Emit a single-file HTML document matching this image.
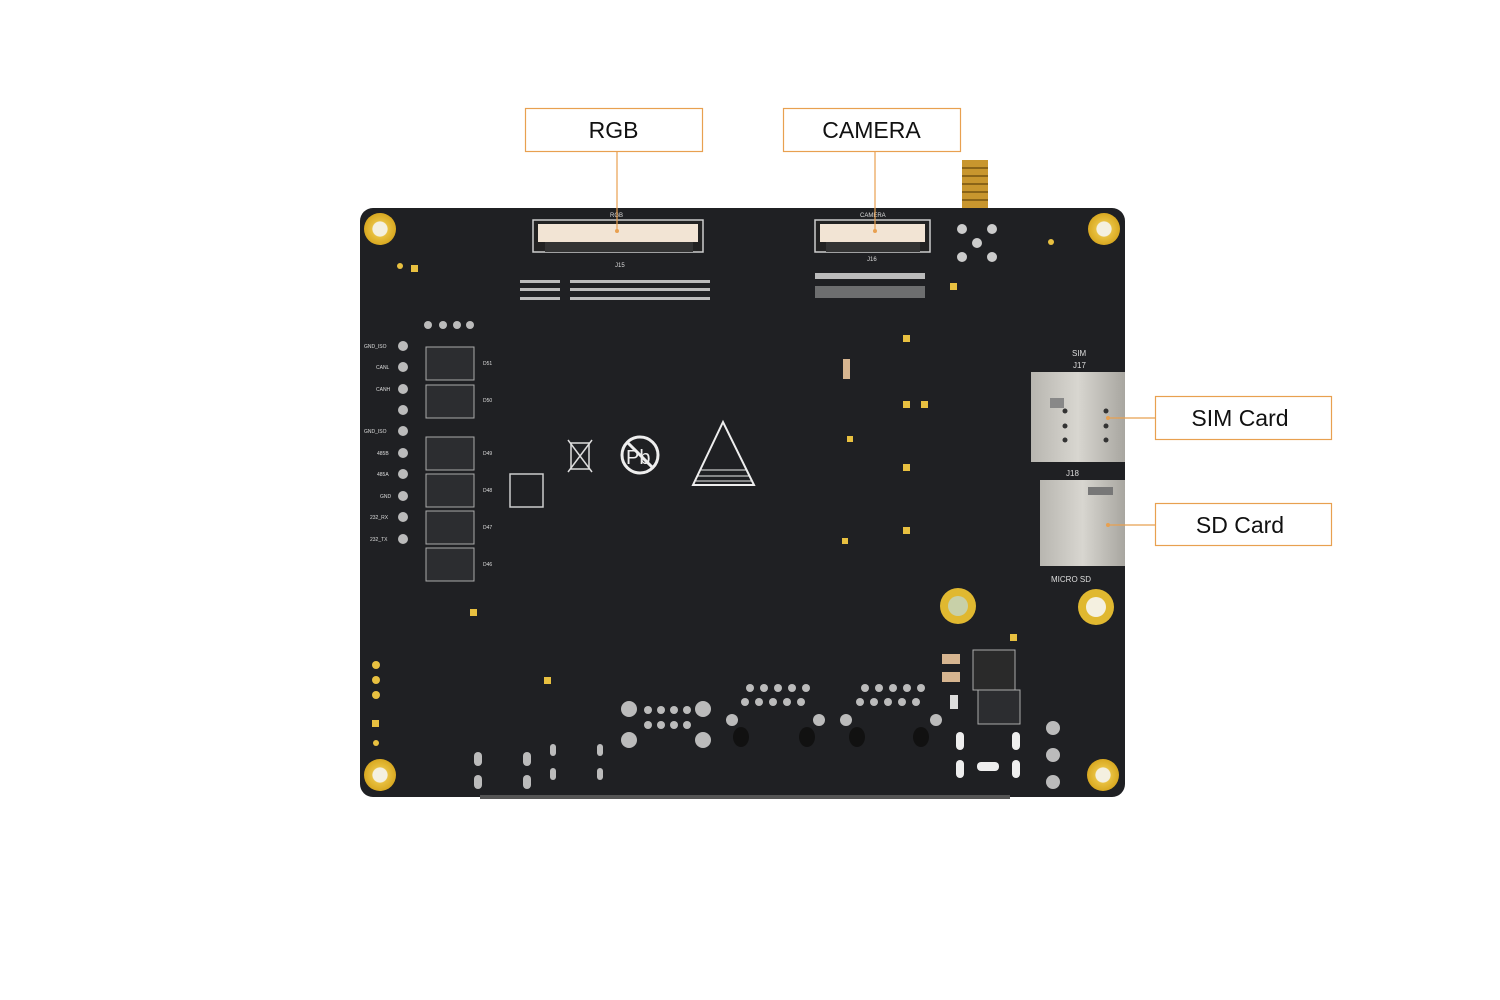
<!DOCTYPE html>
<html><head><meta charset="utf-8"><style>
html,body{margin:0;padding:0;background:#fff;}
svg{display:block;}
.lb{font-family:"Liberation Sans",sans-serif;font-size:23px;fill:#111;}
.s{font-family:"Liberation Sans",sans-serif;font-size:6px;fill:#ddd;}
</style></head><body>
<svg width="1500" height="1000" viewBox="0 0 1500 1000" xmlns="http://www.w3.org/2000/svg">
<defs>
<radialGradient id="gold"><stop offset="0.45" stop-color="#f4f0e0"/><stop offset="0.5" stop-color="#e8c040"/><stop offset="1" stop-color="#d8a820"/></radialGradient>
<linearGradient id="metal" x1="0" x2="1"><stop offset="0" stop-color="#b8b6b0"/><stop offset="0.5" stop-color="#d8d6d0"/><stop offset="1" stop-color="#a8a6a0"/></linearGradient>
</defs>
<!-- antenna -->
<rect x="962" y="160" width="26" height="48" fill="#c8962e"/>
<g stroke="#8a6418" stroke-width="2"><line x1="962" y1="168" x2="988" y2="168"/><line x1="962" y1="176" x2="988" y2="176"/><line x1="962" y1="184" x2="988" y2="184"/><line x1="962" y1="192" x2="988" y2="192"/><line x1="962" y1="200" x2="988" y2="200"/></g>
<!-- board -->
<rect x="360" y="208" width="765" height="589" rx="13" fill="#1f2023"/>
<rect x="480" y="795" width="530" height="4" fill="#555"/>
<!-- mount holes -->
<g>
<circle cx="380" cy="229" r="16" fill="url(#gold)"/>
<circle cx="1104" cy="229" r="16" fill="url(#gold)"/>
<circle cx="380" cy="775" r="16" fill="url(#gold)"/>
<circle cx="1103" cy="775" r="16" fill="url(#gold)"/>
<circle cx="958" cy="606" r="18" fill="#e0b830"/><circle cx="958" cy="606" r="10" fill="#c8d0a8"/>
<circle cx="1096" cy="607" r="18" fill="#e0b830"/><circle cx="1096" cy="607" r="10" fill="#f4f0e0"/>
</g>
<!-- connectors -->
<rect x="533" y="220" width="170" height="32" fill="#222" stroke="#ccc" stroke-width="1.5"/>
<rect x="538" y="224" width="160" height="18" fill="#f2e4d4"/>
<rect x="545" y="242" width="148" height="10" fill="#333"/>
<rect x="815" y="220" width="115" height="32" fill="#222" stroke="#ccc" stroke-width="1.5"/>
<rect x="820" y="224" width="105" height="18" fill="#f2e4d4"/>
<rect x="826" y="242" width="94" height="10" fill="#333"/>
<text class="s" x="610" y="217">RGB</text><text class="s" x="860" y="217">CAMERA</text>
<text class="s" x="615" y="267">J15</text><text class="s" x="867" y="261">J16</text>
<!-- pad rows -->
<g fill="#bbb">
<rect x="520" y="280" width="40" height="3"/><rect x="520" y="288" width="40" height="3"/><rect x="520" y="297" width="40" height="3"/>
<rect x="570" y="280" width="140" height="3"/><rect x="570" y="288" width="140" height="3"/><rect x="570" y="297" width="140" height="3"/>
<rect x="815" y="273" width="110" height="6"/><rect x="815" y="286" width="110" height="12" opacity="0.5"/>
</g>
<!-- SMA pins -->
<g fill="#ccc"><circle cx="962" cy="229" r="5"/><circle cx="992" cy="229" r="5"/><circle cx="977" cy="243" r="5"/><circle cx="962" cy="257" r="5"/><circle cx="992" cy="257" r="5"/></g>
<!-- left pins -->
<g fill="#bbb">
<circle cx="403" cy="346" r="5"/><circle cx="403" cy="367" r="5"/><circle cx="403" cy="389" r="5"/><circle cx="403" cy="410" r="5"/><circle cx="403" cy="431" r="5"/><circle cx="403" cy="453" r="5"/><circle cx="403" cy="474" r="5"/><circle cx="403" cy="496" r="5"/><circle cx="403" cy="517" r="5"/><circle cx="403" cy="539" r="5"/>
<circle cx="428" cy="325" r="4"/><circle cx="443" cy="325" r="4"/><circle cx="457" cy="325" r="4"/><circle cx="470" cy="325" r="4"/>
</g>
<g class="s" style="font-size:5px">
<text x="364" y="348">GND_ISO</text><text x="376" y="369">CANL</text><text x="376" y="391">CANH</text><text x="364" y="433">GND_ISO</text><text x="377" y="455">485B</text><text x="377" y="476">485A</text><text x="380" y="498">GND</text><text x="370" y="519">232_RX</text><text x="370" y="541">232_TX</text>
<text x="483" y="365">D51</text><text x="483" y="402">D50</text><text x="483" y="455">D49</text><text x="483" y="492">D48</text><text x="483" y="529">D47</text><text x="483" y="566">D46</text>
</g>
<!-- diodes -->
<g fill="#2c2d30" stroke="#aaa" stroke-width="1">
<rect x="426" y="347" width="48" height="33"/><rect x="426" y="385" width="48" height="33"/>
<rect x="426" y="437" width="48" height="33"/><rect x="426" y="474" width="48" height="33"/>
<rect x="426" y="511" width="48" height="33"/><rect x="426" y="548" width="48" height="33"/>
</g>
<!-- symbols -->
<rect x="510" y="474" width="33" height="33" fill="none" stroke="#ccc" stroke-width="1.5"/>
<rect x="571" y="443" width="18" height="26" fill="none" stroke="#ddd" stroke-width="1.5"/>
<line x1="568" y1="440" x2="592" y2="472" stroke="#ddd" stroke-width="1.5"/><line x1="592" y1="440" x2="568" y2="472" stroke="#ddd" stroke-width="1.5"/>
<circle cx="640" cy="455" r="18" fill="none" stroke="#eee" stroke-width="3"/>
<text x="626" y="464" style="font-family:'Liberation Sans';font-size:20px;fill:#eee">Pb</text>
<line x1="627" y1="442" x2="653" y2="468" stroke="#eee" stroke-width="3"/>
<polygon points="723,422 693,485 754,485" fill="none" stroke="#eee" stroke-width="2"/>
<g stroke="#eee" stroke-width="1"><line x1="700" y1="470" x2="747" y2="470"/><line x1="698" y1="476" x2="750" y2="476"/><line x1="696" y1="481" x2="752" y2="481"/></g>
<!-- SIM / SD -->
<rect x="1031" y="372" width="94" height="90" fill="url(#metal)"/>
<rect x="1050" y="398" width="14" height="10" fill="#888"/>
<g fill="#333"><circle cx="1065" cy="411" r="2.5"/><circle cx="1065" cy="426" r="2.5"/><circle cx="1065" cy="440" r="2.5"/><circle cx="1106" cy="411" r="2.5"/><circle cx="1106" cy="426" r="2.5"/><circle cx="1106" cy="440" r="2.5"/></g>
<rect x="1040" y="480" width="85" height="86" fill="url(#metal)"/>
<rect x="1088" y="487" width="25" height="8" fill="#777"/>
<text class="s" x="1072" y="356" style="font-size:8px">SIM</text><text class="s" x="1073" y="368" style="font-size:8px">J17</text>
<text class="s" x="1066" y="476" style="font-size:8px">J18</text><text class="s" x="1051" y="582" style="font-size:8px">MICRO SD</text>
<!-- small comps -->
<g fill="#e8c040">
<rect x="411" y="265" width="7" height="7"/><rect x="950" y="283" width="7" height="7"/><rect x="903" y="335" width="7" height="7"/><rect x="903" y="401" width="7" height="7"/><rect x="921" y="401" width="7" height="7"/><rect x="847" y="436" width="6" height="6"/><rect x="903" y="464" width="7" height="7"/><rect x="903" y="527" width="7" height="7"/><rect x="842" y="538" width="6" height="6"/><rect x="470" y="609" width="7" height="7"/><rect x="1010" y="634" width="7" height="7"/><rect x="544" y="677" width="7" height="7"/><rect x="372" y="720" width="7" height="7"/>
<circle cx="376" cy="665" r="4"/><circle cx="376" cy="680" r="4"/><circle cx="376" cy="695" r="4"/><circle cx="376" cy="743" r="3"/><circle cx="1051" cy="242" r="3"/><circle cx="400" cy="266" r="3"/>
</g>
<g fill="#d6b590"><rect x="942" y="654" width="18" height="10"/><rect x="942" y="672" width="18" height="10"/><rect x="843" y="359" width="7" height="20"/></g>
<rect x="973" y="650" width="42" height="40" fill="#2a2a2a" stroke="#aaa"/>
<rect x="978" y="690" width="42" height="34" fill="#2c2d30" stroke="#aaa"/>
<rect x="950" y="695" width="8" height="14" fill="#ddd"/>
<!-- bottom pins -->
<g fill="#bbb">
<circle cx="629" cy="709" r="8"/><circle cx="703" cy="709" r="8"/><circle cx="629" cy="740" r="8"/><circle cx="703" cy="740" r="8"/>
<circle cx="648" cy="710" r="4"/><circle cx="661" cy="710" r="4"/><circle cx="674" cy="710" r="4"/><circle cx="687" cy="710" r="4"/>
<circle cx="648" cy="725" r="4"/><circle cx="661" cy="725" r="4"/><circle cx="674" cy="725" r="4"/><circle cx="687" cy="725" r="4"/>
<circle cx="750" cy="688" r="4"/><circle cx="764" cy="688" r="4"/><circle cx="778" cy="688" r="4"/><circle cx="792" cy="688" r="4"/><circle cx="806" cy="688" r="4"/>
<circle cx="745" cy="702" r="4"/><circle cx="759" cy="702" r="4"/><circle cx="773" cy="702" r="4"/><circle cx="787" cy="702" r="4"/><circle cx="801" cy="702" r="4"/>
<circle cx="865" cy="688" r="4"/><circle cx="879" cy="688" r="4"/><circle cx="893" cy="688" r="4"/><circle cx="907" cy="688" r="4"/><circle cx="921" cy="688" r="4"/>
<circle cx="860" cy="702" r="4"/><circle cx="874" cy="702" r="4"/><circle cx="888" cy="702" r="4"/><circle cx="902" cy="702" r="4"/><circle cx="916" cy="702" r="4"/>
<circle cx="732" cy="720" r="6"/><circle cx="819" cy="720" r="6"/><circle cx="846" cy="720" r="6"/><circle cx="936" cy="720" r="6"/>
<rect x="956" y="732" width="8" height="18" rx="4" fill="#eee"/><rect x="1012" y="732" width="8" height="18" rx="4" fill="#eee"/>
<rect x="956" y="760" width="8" height="18" rx="4" fill="#eee"/><rect x="1012" y="760" width="8" height="18" rx="4" fill="#eee"/><rect x="977" y="762" width="22" height="9" rx="4" fill="#eee"/>
<circle cx="1053" cy="728" r="7"/><circle cx="1053" cy="755" r="7"/><circle cx="1053" cy="782" r="7"/>
<rect x="474" y="752" width="8" height="14" rx="4"/><rect x="474" y="775" width="8" height="14" rx="4"/><rect x="523" y="752" width="8" height="14" rx="4"/><rect x="523" y="775" width="8" height="14" rx="4"/>
<rect x="550" y="744" width="6" height="12" rx="3"/><rect x="550" y="768" width="6" height="12" rx="3"/><rect x="597" y="744" width="6" height="12" rx="3"/><rect x="597" y="768" width="6" height="12" rx="3"/>
</g>
<g fill="#111"><ellipse cx="741" cy="737" rx="8" ry="10"/><ellipse cx="807" cy="737" rx="8" ry="10"/><ellipse cx="857" cy="737" rx="8" ry="10"/><ellipse cx="921" cy="737" rx="8" ry="10"/></g>
<!-- labels -->
<g fill="#fff" stroke="#e8a050" stroke-width="1.2">
<rect x="525.5" y="108.5" width="177" height="43"/>
<rect x="783.5" y="108.5" width="177" height="43"/>
<rect x="1155.5" y="396.5" width="176" height="43"/>
<rect x="1155.5" y="503.5" width="176" height="42"/>
</g>
<g stroke="#e8a050" stroke-width="1.2">
<line x1="617" y1="152" x2="617" y2="231"/>
<line x1="875" y1="152" x2="875" y2="231"/>
<line x1="1108" y1="418" x2="1155" y2="418"/>
<line x1="1108" y1="525" x2="1155" y2="525"/>
</g>
<g fill="#e8a050"><circle cx="617" cy="231" r="2"/><circle cx="875" cy="231" r="2"/><circle cx="1108" cy="418" r="2"/><circle cx="1108" cy="525" r="2"/></g>
<text class="lb" x="613.5" y="138" text-anchor="middle">RGB</text>
<text class="lb" x="871.5" y="138" text-anchor="middle">CAMERA</text>
<text class="lb" x="1240" y="426" text-anchor="middle">SIM Card</text>
<text class="lb" x="1240" y="533" text-anchor="middle">SD Card</text>
</svg>
</body></html>
